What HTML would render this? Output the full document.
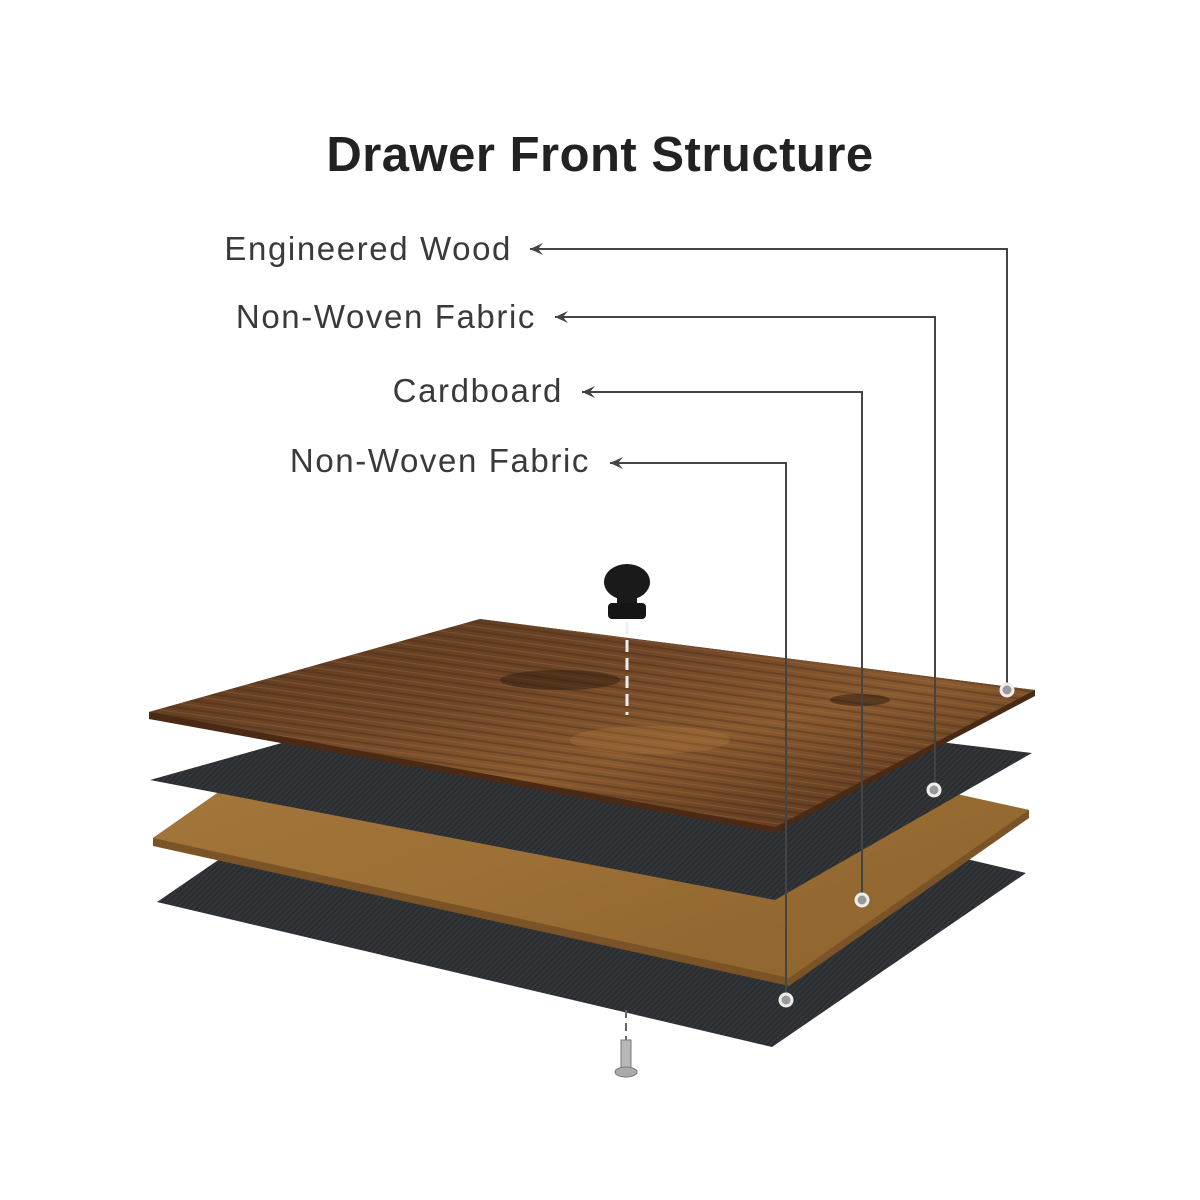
<!DOCTYPE html>
<html><head><meta charset="utf-8"><style>
html,body{margin:0;padding:0;background:#fff;}
svg{display:block;}
</style></head><body>
<svg width="1200" height="1200" viewBox="0 0 1200 1200" xmlns="http://www.w3.org/2000/svg">
<defs>
<linearGradient id="wood" x1="0" y1="0" x2="1" y2="1">
<stop offset="0" stop-color="#5a3820"/>
<stop offset="0.35" stop-color="#6e4527"/>
<stop offset="0.6" stop-color="#8a5a30"/>
<stop offset="0.8" stop-color="#6a4224"/>
<stop offset="1" stop-color="#5c381f"/>
</linearGradient>
<pattern id="grain" width="40" height="9" patternUnits="userSpaceOnUse" patternTransform="rotate(8)">
<rect width="40" height="9" fill="none"/>
<rect y="0" width="40" height="2" fill="#3a2412" opacity="0.3"/>
<rect y="5" width="40" height="1" fill="#b07a42" opacity="0.3"/>
</pattern>
<linearGradient id="card" x1="0" y1="0" x2="1" y2="1">
<stop offset="0" stop-color="#a77a3c"/>
<stop offset="0.5" stop-color="#9c7036"/>
<stop offset="1" stop-color="#8c622c"/>
</linearGradient>
<pattern id="weave" width="4" height="4" patternUnits="userSpaceOnUse" patternTransform="rotate(45)">
<rect width="4" height="4" fill="#34373a"/>
<rect width="2" height="4" fill="#2a2c2f"/>
</pattern>
<marker id="ar" markerWidth="16" markerHeight="14" refX="1" refY="7" orient="auto" markerUnits="userSpaceOnUse">
<path d="M14,1 L1,7 L14,13 L9,7 Z" fill="#444"/>
</marker>
</defs>

<text x="600" y="171" text-anchor="middle" font-family="Liberation Sans, sans-serif" font-weight="bold" font-size="49" fill="#222" letter-spacing="0.5">Drawer Front Structure</text>

<g font-family="Liberation Sans, sans-serif" font-size="33" fill="#3a3a3a" text-anchor="end" letter-spacing="1.6">
<text x="512" y="260">Engineered Wood</text>
<text x="536" y="328">Non-Woven Fabric</text>
<text x="563" y="402">Cardboard</text>
<text x="590" y="472">Non-Woven Fabric</text>
</g>

<!-- bottom fabric -->
<polygon points="157,902 411,728 1026,873 772,1047" fill="url(#weave)"/>
<!-- cardboard -->
<polygon points="153,838 393,670 1029,810 1029,818 789,986 153,846" fill="#7a5426"/>
<polygon points="153,838 393,670 1029,810 789,978" fill="url(#card)"/>
<!-- fabric 1 -->
<polygon points="150,780 481,687 1032,753 775,900" fill="url(#weave)"/>
<!-- wood -->
<polygon points="149,712 480,619 1035,690 1035,696 775,833 149,719" fill="#4a2a14"/>
<polygon points="149,712 480,619 1035,690 775,827" fill="url(#wood)"/>
<polygon points="149,712 480,619 1035,690 775,827" fill="url(#grain)"/>
<ellipse cx="560" cy="680" rx="60" ry="10" fill="#2a180c" opacity="0.45"/>
<ellipse cx="860" cy="700" rx="30" ry="6" fill="#2a180c" opacity="0.5"/>
<ellipse cx="650" cy="740" rx="80" ry="14" fill="#b07a40" opacity="0.3"/>

<!-- knob -->
<ellipse cx="627" cy="582" rx="23" ry="18" fill="#1a1a1a"/>
<rect x="617" y="592" width="20" height="12" fill="#1a1a1a"/>
<rect x="608" y="603" width="38" height="16" rx="4" fill="#151515"/>
<line x1="627" y1="622" x2="627" y2="715" stroke="#eee" stroke-width="3" stroke-dasharray="12,6"/>
<!-- screw -->
<line x1="626" y1="1010" x2="626" y2="1040" stroke="#666" stroke-width="2" stroke-dasharray="8,5"/>
<rect x="621" y="1040" width="10" height="30" fill="#b8b8b8" stroke="#777" stroke-width="1"/>
<ellipse cx="626" cy="1072" rx="11" ry="5" fill="#aaa" stroke="#777"/>

<!-- leaders -->
<g stroke="#444" stroke-width="2" fill="none">
<polyline points="530,249 1007,249 1007,690" marker-start="url(#ar)"/>
<polyline points="555,317 935,317 935,790" marker-start="url(#ar)"/>
<polyline points="582,392 862,392 862,900" marker-start="url(#ar)"/>
<polyline points="610,463 786,463 786,1000" marker-start="url(#ar)"/>
</g>
<g fill="#999" stroke="#eee" stroke-width="3">
<circle cx="1007" cy="690" r="6"/>
<circle cx="934" cy="790" r="6"/>
<circle cx="862" cy="900" r="6"/>
<circle cx="786" cy="1000" r="6"/>
</g>
</svg>
</body></html>
